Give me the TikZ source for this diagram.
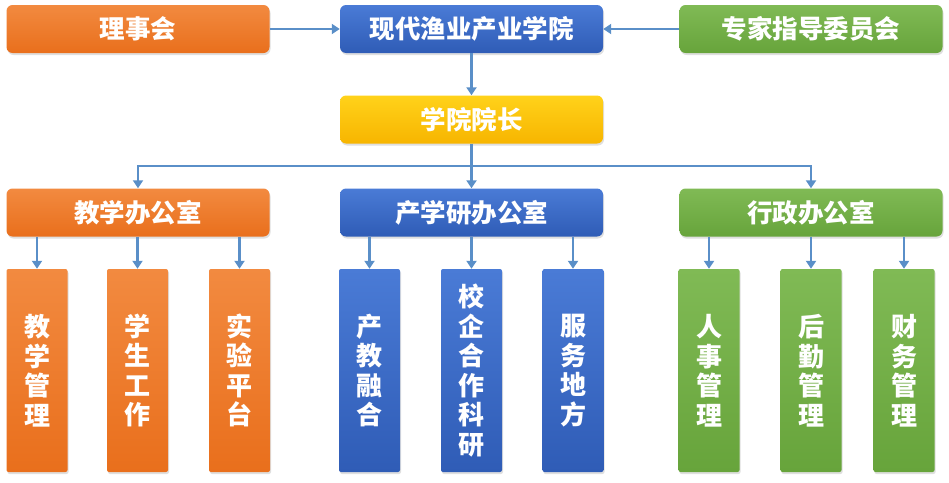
\documentclass[tikz,border=0pt]{standalone}
\usepackage{fontspec}
\newfontfamily\cjk{Noto Sans CJK SC}
\usetikzlibrary{shadows,arrows.meta}
\definecolor{orgT}{HTML}{F28A40}
\definecolor{orgB}{HTML}{E96F1C}
\definecolor{bluT}{HTML}{4A7BD6}
\definecolor{bluB}{HTML}{2F5CB6}
\definecolor{grnT}{HTML}{80BA55}
\definecolor{grnB}{HTML}{67A43B}
\definecolor{ylwT}{HTML}{FFD21A}
\definecolor{ylwB}{HTML}{F7B500}
\definecolor{arrc}{HTML}{5A8FC8}
\begin{document}
\begin{tikzpicture}[x=1pt,y=-1pt,
  base/.style={text=white, inner sep=0pt, align=center,
    drop shadow={opacity=0.25, shadow xshift=1pt, shadow yshift=-2pt}},
  topbox/.style={base, rounded corners=6pt, minimum width=263pt, minimum height=48pt,
    font=\cjk\bfseries\fontsize{25.5}{25.5}\selectfont},
  leaf/.style={base, rounded corners=2pt, minimum width=61pt, minimum height=203pt,
    font=\cjk\bfseries\fontsize{26}{29.5}\selectfont},
  org/.style={top color=orgT, bottom color=orgB},
  blu/.style={top color=bluT, bottom color=bluB},
  grn/.style={top color=grnT, bottom color=grnB},
  ylw/.style={top color=ylwT, bottom color=ylwB},
  conn/.style={draw=arrc, line width=2.6pt},
  arr/.style={conn, -{Triangle[width=10pt,length=8pt]}}]
\useasboundingbox (0,0) rectangle (949,482);
% top row
\node[topbox, org] (lsh) at (138,29) {理事会};
\node[topbox, blu] (top) at (471.5,29) {现代渔业产业学院};
\node[topbox, grn] (exp) at (811,29) {专家指导委员会};
\node[topbox, ylw] (dean) at (471.5,119.5) {学院院长};
% offices
\node[topbox, org] (teach) at (138,212.5) {教学办公室};
\node[topbox, blu] (res) at (471.5,212.5) {产学研办公室};
\node[topbox, grn] (adm) at (811,212.5) {行政办公室};
% leaves
\node[leaf, org] (l1) at (37,370.5) {教\\学\\管\\理};
\node[leaf, org] (l2) at (137.5,370.5) {学\\生\\工\\作};
\node[leaf, org] (l3) at (239.5,370.5) {实\\验\\平\\台};
\node[leaf, blu] (b1) at (369.5,370.5) {产\\教\\融\\合};
\node[leaf, blu] (b2) at (471.5,370.5) {校\\企\\合\\作\\科\\研};
\node[leaf, blu] (b3) at (573,370.5) {服\\务\\地\\方};
\node[leaf, grn] (g1) at (709,370.5) {人\\事\\管\\理};
\node[leaf, grn] (g2) at (811,370.5) {后\\勤\\管\\理};
\node[leaf, grn] (g3) at (904,370.5) {财\\务\\管\\理};
% connectors
\draw[arr] (lsh.east) -- (top.west);
\draw[arr] (exp.west) -- (top.east);
\draw[arr] (top.south) -- (dean.north);
\coordinate (j) at (471.5,166);
\draw[conn] (dean.south) -- (j);
\draw[arr] (j) -| (teach.north);
\draw[arr] (j) -- (res.north);
\draw[arr] (j) -| (adm.north);
\foreach \p/\c in {teach/l1, teach/l2, teach/l3, res/b1, res/b2, res/b3, adm/g1, adm/g2, adm/g3}
  \draw[arr] (\p.south -| \c.north) -- (\c.north);
\end{tikzpicture}
\end{document}
